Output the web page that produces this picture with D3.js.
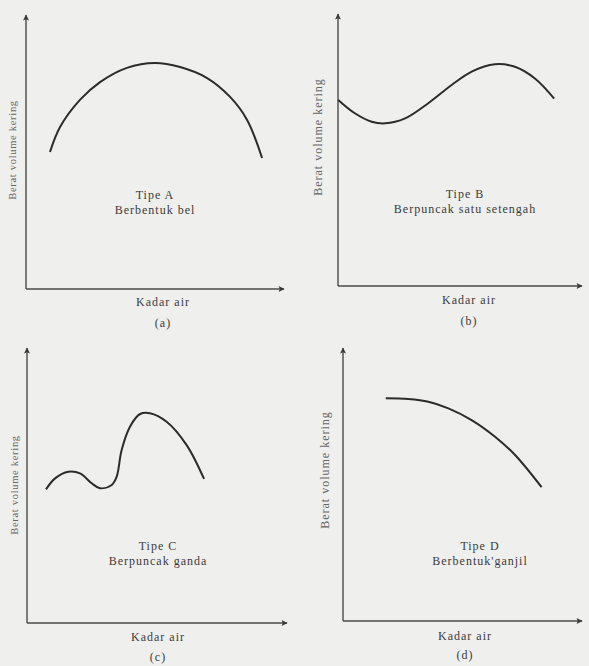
<!DOCTYPE html>
<html>
  <head>
    <meta charset="utf-8">
    <title>Tipe kurva pemadatan</title>
    <script src="https://cdn.jsdelivr.net/npm/d3@7"></script>
    <style>
      body { margin: 0; background: #efefed; }
      svg { display: block; }
      text { font-family: "Liberation Serif", "DejaVu Serif", serif; fill: #3b3b3b; letter-spacing: 1px; }
      .ylab { fill: #666; }
      .axis { stroke: #4a4a4a; stroke-width: 1.4; fill: none; }
      .curve { stroke: #2b2b2b; stroke-width: 2; fill: none; }
    </style>
  </head>
  <body>
    <svg id="chart" width="589" height="666"></svg>

    <script>
      // data: curve shapes in axis units (0-100 on both axes)
      curveA = [[9.3, 50.0], [13.2, 59.1], [20.9, 69.0], [28.7, 75.5], [39.1, 80.7], [50.0, 82.5],
                [59.7, 81.0], [70.2, 77.0], [79.1, 70.1], [85.7, 61.7], [91.5, 47.8]];
      curveB = [[0.1, 68.4], [6.9, 63.5], [13.8, 60.4], [19.3, 59.8], [27.5, 61.6], [37.0, 67.2],
                [46.6, 73.9], [54.8, 78.8], [64.3, 81.5], [72.5, 80.6], [80.7, 76.3], [88.6, 68.9]];
      curveC = [[7.3, 48.6], [10.8, 52.6], [15.9, 55.0], [20.4, 54.4], [24.9, 50.8], [28.1, 49.0],
                [32.6, 50.2], [34.5, 53.2], [36.4, 62.9], [39.6, 71.4], [43.5, 76.0], [47.3, 76.3],
                [53.7, 73.2], [61.4, 64.7], [68.1, 52.4]];
      curveD = [[17.9, 81.6], [27.3, 81.3], [35.7, 80.3], [44.1, 77.9], [53.8, 73.6], [63.6, 67.5],
                [72.0, 60.8], [83.1, 49.0]];

      // labels
      tipeLabels = ["Tipe A", "Tipe B", "Tipe C", "Tipe D"];
      shapeLabels = ["Berbentuk bel", "Berpuncak satu setengah", "Berpuncak ganda", "Berbentuk'ganjil"];
      panelLabels = ["(a)", "(b)", "(c)", "(d)"];
      xLabel = "Kadar air";
      yLabel = "Berat volume kering";

      // layout of each panel (pixel frame of the axes and text anchors)
      panels = [
        { curve: curveA, x0: 26, x1: 284, y0: 289, y1: 15, tx: 155, ty: 198, xl: 163, xly: 302, pl: 323, yx: 16, yc: 150, ys: 10.5, yls: 0.7 },
        { curve: curveB, x0: 338, x1: 582, y0: 286, y1: 14, tx: 465, ty: 197, xl: 469, xly: 300, pl: 321, yx: 322, yc: 137, ys: 12, yls: 1 },
        { curve: curveC, x0: 27, x1: 287, y0: 623, y1: 348, tx: 158, ty: 549, xl: 158, xly: 637, pl: 657, yx: 18, yc: 485, ys: 10.5, yls: 0.7 },
        { curve: curveD, x0: 343, x1: 582, y0: 621, y1: 348, tx: 480, ty: 549, xl: 465, xly: 636, pl: 655, yx: 329, yc: 470, ys: 12, yls: 1 }
      ];

      svg = d3.select("#chart");

      svg.append("defs")
        .append("marker")
          .attr("id", "arrow")
          .attr("viewBox", "0 0 10 10")
          .attr("refX", 9)
          .attr("refY", 5)
          .attr("markerWidth", 10)
          .attr("markerHeight", 6)
          .attr("markerUnits", "userSpaceOnUse")
          .attr("orient", "auto")
        .append("path")
          .attr("d", "M0,0L10,5L0,10L2,5Z")
          .style("fill", "#3a3a3a");

      panels.forEach(function(p, i) {
        var x = d3.scaleLinear().domain([0, 100]).range([p.x0, p.x1]);
        var y = d3.scaleLinear().domain([0, 100]).range([p.y0, p.y1]);
        var g = svg.append("g");

        // axes with arrow heads
        g.append("line").classed("axis", true)
          .attr("x1", x(0)).attr("y1", y(0))
          .attr("x2", x(0)).attr("y2", y(100))
          .attr("marker-end", "url(#arrow)");
        g.append("line").classed("axis", true)
          .attr("x1", x(0)).attr("y1", y(0))
          .attr("x2", x(100)).attr("y2", y(0))
          .attr("marker-end", "url(#arrow)");

        // curve
        var line = d3.line()
          .x(function(d) { return x(d[0]); })
          .y(function(d) { return y(d[1]); })
          .curve(d3.curveCatmullRom.alpha(0.5));
        g.append("path").classed("curve", true)
          .datum(p.curve)
          .attr("d", line);

        // texts
        g.append("text")
          .attr("x", p.tx).attr("y", p.ty + 1)
          .attr("text-anchor", "middle")
          .style("font-size", "12px")
          .text(tipeLabels[i]);
        g.append("text")
          .attr("x", p.tx).attr("y", p.ty + 16)
          .attr("text-anchor", "middle")
          .style("font-size", "12px")
          .text(shapeLabels[i]);
        g.append("text")
          .attr("x", p.xl).attr("y", p.xly + 4)
          .attr("text-anchor", "middle")
          .style("font-size", "12px")
          .text(xLabel);
        g.append("text")
          .attr("x", p.xl).attr("y", p.pl + 4)
          .attr("text-anchor", "middle")
          .style("font-size", "12px")
          .text(panelLabels[i]);
        g.append("text").classed("ylab", true)
          .attr("transform", "translate(" + p.yx + "," + p.yc + ") rotate(-90)")
          .attr("text-anchor", "middle")
          .style("font-size", p.ys + "px")
          .style("letter-spacing", p.yls + "px")
          .text(yLabel);
      });
    </script>
  </body>
</html>
